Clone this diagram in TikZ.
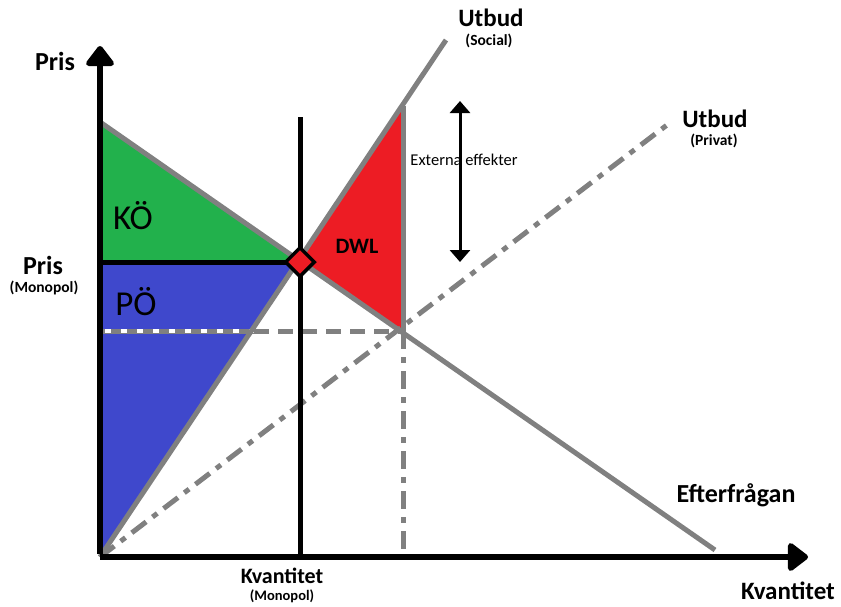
\documentclass[tikz,border=0pt]{standalone}
\usepackage{fontspec}
\setmainfont{Carlito}
\usepackage{xcolor}
\usepackage{tikz}
\usetikzlibrary{arrows.meta,shapes.geometric}
\definecolor{kgreen}{RGB}{34,177,76}
\definecolor{kblue}{RGB}{63,72,204}
\definecolor{kred}{RGB}{237,28,36}
\definecolor{kgray}{RGB}{128,128,128}
\tikzset{%
  ax/.style = {line width=6pt,-{Triangle[length=22pt,width=32pt,round]}},
  curve/.style = {kgray,line width=5pt},
  dashdot/.style = {kgray,line width=5pt,
        dash pattern=on 18pt off 8pt on 6pt off 8pt},
  guide/.style = {kgray,line width=5pt,dash pattern=on 15pt off 9pt},
  lbl/.style = {font=\bfseries\fontsize{26}{28}\selectfont,inner sep=0pt},
  sub/.style = {font=\bfseries\fontsize{15.5}{17}\selectfont,inner sep=0pt}
}
\begin{document}
\begin{tikzpicture}[x=1pt,y=-1pt]
  \useasboundingbox (0,0) rectangle (841,606);
  % points of the diagram
  \coordinate (O) at (100,557);
  \coordinate (ytop) at (100,46);
  \coordinate (xend) at (808,557);
  \coordinate (dtop) at (100,122);
  \coordinate (dend) at (715,550);
  \coordinate (stop) at (446,40);
  \coordinate (ptop) at (667,125);
  \coordinate (mono) at (300,262);
  \coordinate (pm) at (100,262);
  \coordinate (vtop) at (300,117);
  \coordinate (qm) at (300,557);
  \coordinate (eq) at (403,331);
  \coordinate (peq) at (100,331);
  \coordinate (cut) at (254,331);
  \coordinate (qeq) at (403,557);
  \coordinate (ext) at (403,106);
  \coordinate (atop) at (460,101);
  \coordinate (abot) at (460,262);

  % areas
  \fill[kgreen] (dtop) -- (mono) -- (pm) -- cycle;
  \fill[kblue] (pm) -- (mono) -- (O) -- cycle;
  \fill[kred] (mono) -- (ext) -- (eq) -- cycle;

  % guide lines
  \draw[kgray,line width=5pt] (peq) -- (cut);
  \draw[white,line width=4pt,dash pattern=on 6pt off 10pt] ([xshift=5pt]peq) -- (cut);
  \draw[guide] (cut) -- (eq);
  \draw[dashdot] (eq) -- (qeq);

  % curves
  \draw[curve] (dtop) -- (dend);
  \draw[curve] (O) -- (stop);
  \draw[dashdot] (O) -- (ptop);
  \draw[curve] (ext) -- (eq);

  % monopoly lines
  \draw[line width=5pt] (pm) -- (mono);
  \draw[line width=5pt] (vtop) -- (qm);

  % axes
  \draw[ax] (O) -- (xend);
  \draw[ax] ([yshift=3pt]O) -- (ytop);

  \node[diamond,draw,fill=kred,line width=3.5pt,minimum size=30pt,inner sep=0pt] (mk) at (mono) {};
  \draw[line width=3pt,{Triangle[length=12pt,width=20pt]}-{Triangle[length=12pt,width=20pt]}] (atop) -- (abot);

  % texts
  \node[lbl] (pris) at (55,61) {Pris};
  \node[lbl] (prism) at (43,265) {Pris};
  \node[sub] (prismsub) at (44,288) {(Monopol)};
  \node[font=\fontsize{35}{37}\selectfont,inner sep=0pt] (ko) at (133,216) {KÖ};
  \node[font=\fontsize{35}{37}\selectfont,inner sep=0pt] (po) at (136,302) {PÖ};
  \node[font=\bfseries\fontsize{22}{24}\selectfont,inner sep=0pt] (dwl) at (357,246) {DWL};
  \node[font=\fontsize{16.5}{18}\selectfont,inner sep=0pt] (extt) at (464,160) {Externa effekter};
  \node[lbl,font=\bfseries\fontsize{25}{27}\selectfont] (uts) at (491,18) {Utbud};
  \node[sub] (utssub) at (489,41) {(Social)};
  \node[lbl,font=\bfseries\fontsize{25}{27}\selectfont] (utp) at (715,119) {Utbud};
  \node[sub] (utpsub) at (714,141) {(Privat)};
  \node[lbl] (eft) at (736,495) {Efterfrågan};
  \node[lbl,font=\bfseries\fontsize{22}{24}\selectfont] (kvm) at (282,576) {Kvantitet};
  \node[sub,font=\bfseries\fontsize{14.5}{16}\selectfont] (kvmsub) at (282,596) {(Monopol)};
  \node[lbl,font=\bfseries\fontsize{25}{27}\selectfont] (kv) at (788,591) {Kvantitet};
\end{tikzpicture}
\end{document}
